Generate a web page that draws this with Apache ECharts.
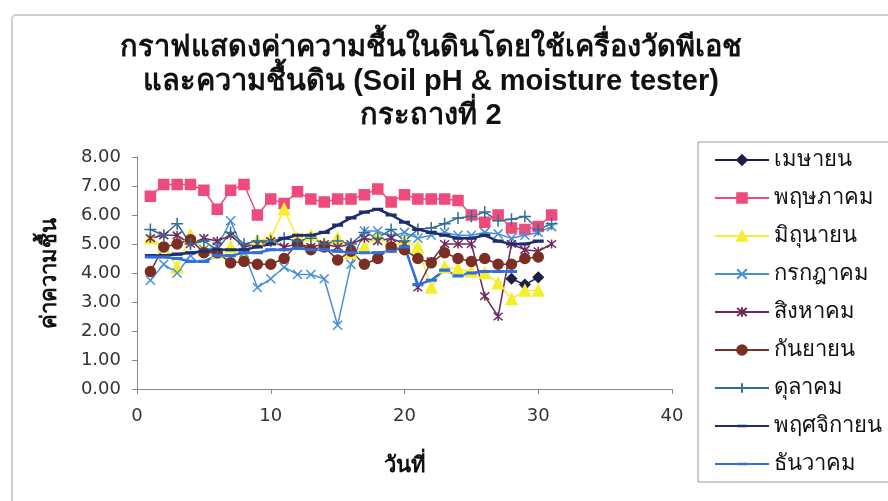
<!DOCTYPE html>
<html>
<head>
<meta charset="utf-8">
<script src="https://cdn.jsdelivr.net/npm/echarts@6/dist/echarts.min.js"></script>
<style>
  html, body { margin: 0; padding: 0; background: #fff; }
  #chart { width: 888px; height: 501px; }
</style>
</head>
<body>
<div id="chart"></div>
<script>
const days = [1, 2, 3, 4, 5, 6, 7, 8, 9, 10, 11, 12, 13, 14, 15, 16, 17, 18, 19, 20, 21, 22, 23, 24, 25, 26, 27, 28, 29, 30, 31]

const aprData = [null, null, null, null, null, null, null, null, null, null, null, null, null, null, null, null, null, null, null, null, null, null, null, null, null, null, null, 3.8, 3.6, 3.85]
const mayData = [6.65, 7.05, 7.05, 7.05, 6.85, 6.2, 6.85, 7.05, 6.0, 6.55, 6.4, 6.8, 6.55, 6.45, 6.55, 6.55, 6.7, 6.9, 6.45, 6.7, 6.55, 6.55, 6.55, 6.5, 6.0, 5.75, 6.0, 5.55, 5.5, 5.6, 6.0]
const junData = [5.2, 4.9, 4.2, 5.3, 4.8, 4.7, 4.9, 4.6, 5.1, 5.2, 6.2, 5.2, 5.3, 5.0, 5.2, 4.7, 4.9, 5.3, 4.9, 5.1, 4.9, 3.5, 4.2, 4.15, 4.05, 4.0, 3.65, 3.1, 3.4, 3.4]
const julData = [3.75, 4.3, 4.0, 4.6, 4.8, 4.9, 5.8, 4.7, 3.5, 3.8, 4.2, 3.95, 3.95, 3.8, 2.2, 4.3, 5.45, 5.45, 5.25, 5.4, 5.2, 5.3, 5.4, 5.3, 5.3, 5.4, 5.35, 5.2, 5.3, 5.4, 5.6]
const augData = [5.2, 5.3, 5.3, 5.0, 5.2, 5.1, 5.3, 4.9, 5.0, 5.1, 4.9, 5.0, 4.9, 5.0, 4.9, 5.0, 5.2, 5.1, 5.2, 5.0, 3.5, 4.4, 5.0, 5.0, 5.0, 3.2, 2.5, 5.0, 4.8, 4.75, 5.0]
const sepData = [4.05, 4.9, 5.0, 5.15, 4.7, 4.7, 4.35, 4.4, 4.3, 4.3, 4.5, 5.0, 4.8, 4.9, 4.45, 4.75, 4.3, 4.5, 4.9, 4.8, 4.5, 4.35, 4.7, 4.5, 4.4, 4.5, 4.3, 4.3, 4.5, 4.55]
const octData = [5.5, 5.3, 5.7, 5.0, 5.1, 4.8, 5.4, 5.0, 5.1, 5.1, 5.2, 5.1, 5.2, 5.0, 5.1, 5.0, 5.4, 5.2, 5.5, 5.1, 5.5, 5.55, 5.7, 5.9, 5.95, 6.1, 5.8, 5.85, 5.95, 5.5, 5.7]
const novData = [4.6, 4.6, 4.65, 4.7, 4.75, 4.8, 4.8, 4.8, 4.9, 5.0, 5.2, 5.3, 5.3, 5.4, 5.65, 5.9, 6.1, 6.2, 6.0, 5.75, 5.5, 5.4, 5.3, 5.2, 5.2, 5.3, 5.1, 5.0, 5.0, 5.1]
const decData = [4.55, 4.55, 4.5, 4.4, 4.4, 4.6, 4.6, 4.7, 4.7, 4.8, 4.8, 4.85, 4.8, 4.8, 4.75, 4.7, 4.7, 4.7, 4.75, 4.9, 3.6, 3.75, 4.1, 3.9, 4.0, 4.05, 4.05, 4.05]

const monthNames = ['เมษายน', 'พฤษภาคม', 'มิถุนายน', 'กรกฎาคม', 'สิงหาคม', 'กันยายน', 'ดุลาคม', 'พฤศจิกายน', 'ธันวาคม']
const yTicks = ['0.00', '1.00', '2.00', '3.00', '4.00', '5.00', '6.00', '7.00', '8.00']

const font = "'Liberation Sans', Arial, 'Noto Sans', sans-serif"
const numFont = "'DejaVu Sans', sans-serif"

const xMark = 'path://M0,0L10,10M10,0L0,10'
const starMark = 'path://M0,0L10,10M10,0L0,10M5,-1L5,11'
const plusMark = 'path://M5,0L5,10M3,5L7,5'
// tiny corner specks keep a square bounding box, so the dash stays flat in the legend
const dashMark = 'path://M0,0L0.05,0L0,0.05Z M10,10L9.95,10L10,9.95Z M0,3.6L10,3.6L10,6.4L0,6.4Z'

const styles = [
  { data: aprData, color: '#1c1f45', symbol: 'diamond', size: 10 },
  { data: mayData, color: '#ee4b7c', symbol: 'rect', size: 10 },
  { data: junData, color: '#f4ee2c', symbol: 'triangle', size: 11 },
  { data: julData, color: '#4a8fd6', symbol: xMark, size: 9 },
  { data: augData, color: '#6e2a5c', symbol: starMark, size: 9 },
  { data: sepData, color: '#7a2e24', symbol: 'circle', size: 10 },
  { data: octData, color: '#2f6e98', symbol: plusMark, size: 12 },
  { data: novData, color: '#1f2d6e', symbol: dashMark, size: 11 },
  { data: decData, color: '#2f6fe0', symbol: dashMark, size: 11 }
]

const series = styles.map((s, i) => ({
  name: monthNames[i],
  type: 'line',
  data: s.data.map((v, k) => [days[k], v]),
  symbol: s.symbol,
  symbolSize: s.size,
  showAllSymbol: true,
  connectNulls: false,
  lineStyle: { color: s.color, width: i >= 7 ? 2.5 : 1.5 },
  itemStyle: { color: s.color, borderColor: s.color, borderWidth: i >= 7 ? 0 : 1.5 },
  emphasis: { disabled: true },
  animation: false
}))

const chart = echarts.init(document.getElementById('chart'))
chart.setOption({
  backgroundColor: '#fff',
  graphic: [{
    type: 'rect',
    shape: { x: 12, y: 15, width: 900, height: 500, r: 4 },
    style: { fill: 'none', stroke: '#cfcfcf', lineWidth: 2 },
    silent: true
  }],
  title: {
    text: 'กราฟแสดงค่าความชื้นในดินโดยใช้เครื่องวัดพีเอช\nและความชื้นดิน (Soil pH & moisture tester)\nกระถางที่ 2',
    left: 426,
    top: 26,
    textAlign: 'center',
    textStyle: {
      fontFamily: "'Liberation Sans Narrow', " + font,
      fontSize: 29,
      fontWeight: 'bold',
      color: '#111',
      lineHeight: 34
    }
  },
  grid: { left: 137, right: 216, top: 157, bottom: 112 },
  legend: {
    orient: 'vertical',
    left: 698,
    top: 142,
    padding: [7, 30, 7, 16],
    itemWidth: 54,
    itemHeight: 12,
    itemGap: 16,
    borderColor: '#9a9a9a',
    borderWidth: 1,
    backgroundColor: '#fff',
    textStyle: { fontFamily: font, fontSize: 22, color: '#111', lineHeight: 22 },
    data: monthNames
  },
  xAxis: {
    type: 'value',
    min: 0,
    max: 40,
    interval: 10,
    name: 'วันที่',
    nameLocation: 'middle',
    nameGap: 66,
    nameTextStyle: { fontFamily: font, fontSize: 22, fontWeight: 'bold', color: '#111' },
    axisLine: { show: true, lineStyle: { color: '#888', width: 1 } },
    axisTick: { show: true, length: 5, lineStyle: { color: '#888' } },
    axisLabel: { fontFamily: numFont, fontSize: 18, color: '#333', margin: 18 },
    splitLine: { show: false }
  },
  yAxis: {
    type: 'value',
    min: 0,
    max: 8,
    interval: 1,
    name: 'ค่าความชื้น',
    nameLocation: 'middle',
    nameGap: 76,
    nameRotate: 90,
    nameTextStyle: { fontFamily: font, fontSize: 22, fontWeight: 'bold', color: '#111' },
    axisLine: { show: true, lineStyle: { color: '#888', width: 1 } },
    axisTick: { show: true, length: 5, lineStyle: { color: '#888' } },
    axisLabel: {
      fontFamily: numFont,
      fontSize: 18,
      color: '#333',
      margin: 16,
      formatter: v => yTicks[Math.round(v)]
    },
    splitLine: { show: false }
  },
  series
})
</script>
</body>
</html>
